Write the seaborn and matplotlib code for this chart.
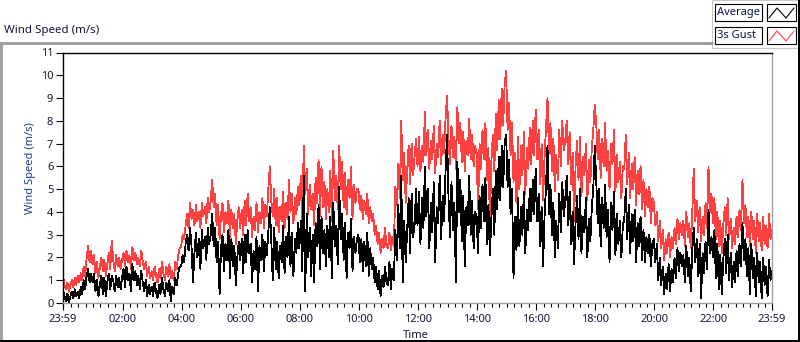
import numpy as np
import pandas as pd
import matplotlib
matplotlib.use("Agg")
import matplotlib.pyplot as plt
import seaborn as sns
from matplotlib.lines import Line2D
from matplotlib.patches import Rectangle
from matplotlib.ticker import MultipleLocator

# ---------------- data (3-minute samples) ----------------
sample_minutes = 3
start_offset_min = -1   # first sample at 23:59 of the previous day

gust = [
    # 00h
    1.2, 0.8, 0.6, 0.9, 0.5, 0.8, 1.0, 0.7, 1.1, 0.8, 1.2, 0.9, 1.3, 1.0, 1.6, 1.2, 2.0, 2.5, 1.8, 2.3,
    # 01h
    1.7, 2.1, 1.3, 1.8, 1.1, 1.6, 2.0, 1.4, 1.9, 1.2, 1.7, 2.2, 1.5, 2.75, 1.9, 1.4, 2.1, 1.6, 2.0, 1.5,
    # 02h
    1.9, 2.2, 1.6, 2.3, 1.8, 2.1, 1.5, 2.45, 1.9, 2.2, 1.7, 2.0, 1.6, 2.3, 1.8, 1.5, 1.8, 1.2, 1.6, 1.1,
    # 03h
    1.4, 1.0, 1.6, 1.2, 0.9, 1.5, 1.1, 1.8, 1.3, 1.0, 1.6, 1.2, 1.7, 1.1, 1.4, 1.0, 1.8, 1.5, 2.1, 2.4,
    # 04h
    2.5, 3.0, 2.8, 3.4, 3.9, 3.3, 4.4, 3.7, 4.1, 3.4, 4.3, 3.6, 4.0, 3.3, 4.4, 3.8, 4.2, 3.5, 4.6, 4.0,
    # 05h
    4.5, 5.4, 4.2, 4.8, 3.4, 4.3, 2.8, 3.9, 4.4, 3.1, 4.0, 3.5, 4.5, 2.9, 4.1, 3.3, 3.9, 2.6, 3.6, 4.2,
    # 06h
    3.3, 4.1, 3.0, 4.5, 3.4, 4.8, 3.6, 4.2, 2.9, 3.8, 3.2, 4.4, 3.1, 4.0, 3.5, 4.6, 3.3, 4.3, 3.8, 5.0,
    # 07h
    6.0, 4.5, 3.8, 5.0, 3.4, 4.6, 3.1, 4.2, 3.6, 4.9, 3.3, 4.4, 3.7, 5.4, 4.0, 4.8, 3.5, 4.6, 3.9, 5.1,
    # 08h
    4.3, 5.6, 3.6, 6.9, 4.8, 5.9, 3.9, 5.2, 4.1, 4.8, 3.4, 5.5, 4.4, 6.3, 3.8, 6.0, 4.2, 5.3, 3.7, 5.0,
    # 09h
    4.0, 5.8, 3.6, 6.7, 4.5, 5.6, 4.1, 6.9, 5.0, 6.2, 4.2, 5.7, 3.9, 5.4, 4.6, 6.0, 3.7, 5.2, 4.4, 5.0,
    # 10h
    5.0, 4.1, 4.7, 3.7, 4.5, 3.9, 4.8, 3.5, 4.2, 3.6, 3.9, 3.0, 3.4, 2.6, 3.1, 2.2, 2.8, 2.4, 3.3, 2.5,
    # 11h
    2.4, 3.1, 2.3, 2.9, 2.5, 5.1, 4.3, 6.1, 4.6, 8.0, 5.4, 6.6, 4.4, 5.8, 6.9, 5.2, 7.0, 5.6, 6.4, 7.2,
    # 12h
    6.0, 7.3, 5.8, 6.9, 6.2, 8.4, 6.5, 7.6, 5.9, 7.1, 6.3, 7.8, 5.7, 7.0, 6.4, 8.0, 6.1, 7.4, 6.6, 8.1,
    # 13h
    9.1, 7.2, 6.1, 7.8, 6.4, 7.3, 5.9, 8.6, 7.0, 7.9, 6.2, 7.5, 5.8, 7.1, 6.5, 8.1, 6.3, 7.4, 6.0, 6.9,
    # 14h
    6.6, 4.1, 7.0, 5.9, 7.6, 6.3, 7.9, 5.4, 6.8, 3.5, 6.2, 7.4, 5.8, 8.3, 6.7, 8.9, 7.2, 9.4, 7.8, 9.6,
    # 15h
    10.2, 7.6, 8.8, 6.5, 7.9, 5.3, 6.6, 4.4, 7.3, 5.0, 6.9, 5.6, 7.5, 4.8, 6.8, 5.9, 7.7, 6.1, 8.0, 6.5,
    # 16h
    8.5, 6.3, 7.6, 5.2, 7.0, 4.5, 6.4, 7.7, 9.0, 6.6, 7.9, 5.8, 7.2, 4.9, 6.5, 5.4, 7.6, 6.0, 8.0, 6.7,
    # 17h
    7.1, 8.0, 6.1, 7.5, 5.2, 6.6, 3.6, 6.0, 7.1, 5.4, 7.3, 4.7, 6.4, 5.6, 7.0, 4.5, 6.3, 5.3, 6.8, 7.6,
    # 18h
    8.7, 7.9, 6.3, 7.6, 5.5, 7.2, 6.0, 7.9, 5.8, 6.7, 5.0, 7.0, 6.1, 7.6, 4.9, 6.5, 5.3, 6.2, 4.6, 6.0,
    # 19h
    5.9, 7.4, 5.2, 6.6, 4.6, 6.1, 5.0, 6.4, 4.3, 5.8, 4.8, 6.0, 4.1, 5.4, 3.8, 5.0, 4.2, 5.1, 3.5, 4.6,
    # 20h
    4.4, 3.4, 4.0, 2.7, 3.6, 2.4, 3.2, 1.9, 2.8, 2.2, 3.1, 2.0, 2.9, 2.4, 3.3, 2.6, 3.7, 2.8, 3.5, 3.0,
    # 21h
    3.6, 2.5, 4.0, 2.9, 3.5, 2.4, 3.9, 5.9, 3.6, 4.5, 3.1, 4.2, 2.7, 3.8, 3.0, 4.4, 3.3, 6.0, 4.0, 4.8,
    # 22h
    3.5, 4.6, 2.8, 4.0, 2.5, 3.6, 2.2, 3.4, 4.2, 3.0, 4.6, 2.8, 3.7, 2.4, 3.3, 2.6, 3.8, 2.9, 4.1, 3.2,
    # 23h
    5.4, 3.5, 4.3, 2.9, 3.8, 2.5, 4.0, 2.8, 3.6, 2.2, 3.9, 2.7, 3.5, 2.3, 3.8, 2.6, 3.4, 2.4, 3.9, 2.8,
    3.2,
]

average = [
    # 00h
    0.6, 0.3, 0.1, 0.4, 0.0, 0.3, 0.5, 0.2, 0.6, 0.3, 0.5, 0.2, 0.7, 0.4, 1.0, 0.6, 1.2, 1.5, 0.9, 1.3,
    # 01h
    0.9, 1.3, 0.5, 1.0, 0.3, 0.8, 1.2, 0.4, 1.1, 0.3, 0.9, 1.3, 0.6, 1.2, 1.0, 0.5, 1.2, 0.7, 1.1, 0.6,
    # 02h
    1.1, 1.5, 0.7, 1.6, 1.0, 1.3, 0.5, 1.7, 1.0, 1.4, 0.8, 1.2, 0.6, 1.4, 0.9, 0.5, 1.0, 0.3, 0.8, 0.4,
    # 03h
    0.7, 0.3, 0.9, 0.5, 0.2, 0.8, 0.4, 1.1, 0.6, 0.3, 0.9, 0.5, 1.0, 0.1, 0.7, 0.4, 1.1, 0.8, 1.3, 1.6,
    # 04h
    1.6, 2.1, 1.8, 2.6, 3.0, 2.3, 3.3, 2.5, 0.9, 2.2, 3.1, 2.0, 2.8, 1.5, 3.2, 2.4, 2.9, 1.9, 3.3, 2.6,
    # 05h
    3.0, 3.9, 2.5, 3.3, 1.8, 2.7, 0.4, 2.4, 3.0, 1.4, 2.6, 1.9, 3.2, 1.1, 2.8, 1.6, 2.5, 0.8, 2.0, 2.7,
    # 06h
    1.9, 2.8, 1.3, 3.0, 1.8, 3.2, 2.2, 2.6, 0.9, 2.3, 1.5, 2.9, 0.5, 2.5, 1.9, 3.0, 1.4, 2.7, 2.1, 3.1,
    # 07h
    4.2, 2.8, 1.0, 3.3, 1.5, 2.7, 1.1, 2.5, 1.8, 3.4, 1.3, 2.9, 2.0, 3.8, 1.6, 3.1, 1.2, 2.8, 2.2, 3.5,
    # 08h
    2.4, 3.6, 1.4, 5.6, 0.5, 3.9, 2.0, 3.3, 1.2, 3.0, 0.9, 3.5, 2.5, 4.3, 1.5, 3.8, 2.2, 3.2, 1.6, 3.4,
    # 09h
    2.0, 3.8, 1.1, 4.4, 2.5, 3.4, 1.7, 5.1, 2.8, 3.9, 1.9, 3.5, 1.1, 3.1, 2.4, 3.7, 1.4, 2.9, 2.2, 2.8,
    # 10h
    3.0, 1.8, 2.8, 1.4, 2.7, 1.6, 3.1, 1.2, 2.4, 1.5, 2.0, 0.9, 1.6, 0.6, 1.4, 0.3, 1.2, 0.7, 1.6, 0.9,
    # 11h
    0.8, 1.8, 0.6, 1.5, 1.0, 3.2, 1.9, 4.3, 2.4, 5.6, 0.9, 3.6, 1.8, 3.2, 4.6, 2.2, 4.8, 2.9, 3.4, 5.0,
    # 12h
    3.4, 4.9, 2.6, 4.6, 3.3, 6.0, 3.8, 5.0, 2.4, 4.4, 3.1, 5.3, 1.8, 4.2, 3.5, 5.6, 2.8, 4.7, 3.6, 5.8,
    # 13h
    7.4, 4.6, 2.9, 5.3, 3.2, 4.4, 0.9, 6.2, 4.0, 5.4, 2.7, 4.7, 1.6, 4.2, 3.4, 5.6, 3.0, 4.5, 2.4, 4.0,
    # 14h
    3.8, 2.2, 4.7, 3.3, 5.2, 3.6, 5.5, 2.6, 4.3, 2.1, 3.7, 5.0, 3.0, 5.8, 4.1, 6.4, 4.5, 6.9, 5.1, 7.0,
    # 15h
    7.4, 5.1, 6.3, 3.9, 5.0, 1.1, 3.8, 2.3, 4.6, 2.5, 4.2, 3.0, 4.9, 2.2, 4.1, 3.2, 5.0, 3.6, 5.4, 3.9,
    # 16h
    5.9, 3.6, 4.8, 2.5, 4.2, 1.6, 3.8, 5.1, 6.9, 3.9, 5.2, 3.0, 4.4, 2.0, 3.6, 2.4, 4.8, 3.1, 5.3, 3.8,
    # 17h
    4.5, 5.6, 3.4, 4.9, 2.6, 4.0, 1.7, 3.5, 4.7, 2.8, 5.0, 2.2, 3.8, 3.1, 4.6, 2.0, 3.7, 2.7, 4.2, 5.0,
    # 18h
    6.9, 5.4, 3.5, 5.0, 2.5, 4.6, 3.3, 5.2, 2.9, 4.1, 1.8, 4.4, 3.2, 4.9, 2.1, 3.9, 2.6, 3.6, 2.0, 3.4,
    # 19h
    3.7, 5.0, 2.8, 4.3, 2.2, 3.9, 2.7, 4.1, 1.8, 3.5, 2.5, 3.8, 1.9, 3.2, 1.8, 2.9, 2.2, 3.0, 1.6, 2.6,
    # 20h
    2.8, 1.8, 2.6, 1.0, 2.0, 0.8, 1.6, 0.4, 1.3, 0.6, 1.7, 0.5, 1.5, 0.9, 2.0, 1.1, 2.4, 1.4, 2.2, 1.6,
    # 21h
    2.1, 0.9, 2.5, 1.2, 2.0, 0.5, 2.3, 3.3, 1.8, 2.8, 1.2, 2.6, 0.2, 2.2, 1.3, 2.7, 1.5, 4.1, 2.2, 2.9,
    # 22h
    2.0, 3.2, 1.1, 2.6, 0.6, 2.1, 0.4, 1.9, 2.8, 1.3, 3.0, 1.0, 2.2, 0.7, 1.8, 0.9, 2.3, 1.2, 2.6, 1.6,
    # 23h
    3.5, 1.9, 2.8, 1.2, 2.4, 0.4, 2.6, 1.1, 2.0, 0.3, 2.2, 0.9, 1.8, 0.2, 2.0, 0.8, 1.6, 0.3, 1.9, 1.0,
    1.4,
]

series_names = ["Average", "3s Gust"]
series_colors = ["#000000", "#ff4040"]

x_tick_hours = [-1 / 60, 2, 4, 6, 8, 10, 12, 14, 16, 18, 20, 22, 24 - 1 / 60]
x_tick_labels = ["23:59", "02:00", "04:00", "06:00", "08:00", "10:00", "12:00",
                 "14:00", "16:00", "18:00", "20:00", "22:00", "23:59"]
y_ticks = list(range(0, 12))

# ---------------- figure ----------------
W, H = 800, 342
sns.set_theme(style="white")
plt.rcParams['font.family'] = ['Noto Sans', 'DejaVu Sans']

fig = plt.figure(figsize=(W / 100, H / 100), dpi=100)
fig.patch.set_facecolor("white")

def fx(px):
    return px / W

def fy(py):
    return 1 - py / H

L, R, T, B = 63, 772, 52.5, 303
ax = fig.add_axes([fx(L), fy(B), fx(R) - fx(L), fy(T) - fy(B)])
ax.set_facecolor("white")

n = len(gust)
hours = (start_offset_min + np.arange(n) * sample_minutes) / 60.0
df = pd.DataFrame({
    "hours": np.concatenate([hours, hours]),
    "speed": np.array(gust + average, dtype=float),
    "series": ["3s Gust"] * n + ["Average"] * n,
})

sns.lineplot(data=df, x="hours", y="speed", hue="series",
             hue_order=["3s Gust", "Average"],
             palette={"3s Gust": series_colors[1], "Average": series_colors[0]},
             estimator=None, linewidth=0.6, legend=False, ax=ax)
for ln in ax.lines:
    ln.set_antialiased(False)

ax.set_xlim(-1 / 60, 24 - 1 / 60)
ax.set_ylim(0, 11)
ax.set_xticks(x_tick_hours)
ax.set_xticklabels(x_tick_labels)
ax.xaxis.set_minor_locator(MultipleLocator(0.25))
ax.set_yticks(y_ticks)
ax.set_yticklabels([str(v) for v in y_ticks])

tick_col = "#14143c"
ax.tick_params(axis="x", which="major", direction="out", length=5, width=0.8,
               color="black", pad=3, labelsize=8, labelcolor=tick_col, bottom=True)
ax.tick_params(axis="x", which="minor", direction="out", length=3, width=0.8,
               color="black", bottom=True)
ax.tick_params(axis="y", which="major", direction="out", length=5, width=0.8,
               color="black", pad=2, labelsize=8, labelcolor=tick_col, left=True)

for side in ["left", "top"]:
    ax.spines[side].set_color("black")
    ax.spines[side].set_linewidth(1.0)
for side in ["right", "bottom"]:
    ax.spines[side].set_color("#a0a0a0")
    ax.spines[side].set_linewidth(1.0)

ax.set_xlabel("")
ax.set_ylabel("Wind Speed (m/s)", fontsize=8, color="#1c3a96")
ax.yaxis.set_label_coords((36 - L) / (R - L), 0.54)

fig.text(fx(416), fy(335), "Time", ha="center", va="center", fontsize=8, color=tick_col)
fig.text(fx(4), fy(31), "Wind Speed (m/s)", ha="left", va="center", fontsize=8.3, color=tick_col)

# outer panel decorations
def hline(y, x0, x1, col, lw=1.0):
    fig.add_artist(Line2D([fx(x0), fx(x1)], [fy(y), fy(y)], color=col, lw=lw,
                          transform=fig.transFigure, antialiased=False))

def vline(x, y0, y1, col, lw=1.0):
    fig.add_artist(Line2D([fx(x), fx(x)], [fy(y0), fy(y1)], color=col, lw=lw,
                          transform=fig.transFigure, antialiased=False))

hline(42.5, 0, 712, "#a0a0a0")
vline(0.8, 42.5, 342, "#a0a0a0")
hline(340.8, 0, 800, "black")
vline(799.2, 0, 342, "black")

# legend panel
fig.add_artist(Rectangle((fx(712), fy(48)), fx(798) - fx(712), fy(0) - fy(48),
                         transform=fig.transFigure, facecolor="white",
                         edgecolor="#c8c8c8", lw=0.8))
rows = [(4, 21), (27, 44)]
for (y0, y1), name, col in zip(rows, series_names, series_colors):
    fig.add_artist(Rectangle((fx(715), fy(y1)), fx(762) - fx(715), fy(y0) - fy(y1),
                             transform=fig.transFigure, facecolor="white",
                             edgecolor="black", lw=0.8))
    fig.text(fx(717), fy((y0 + y1) / 2 + 0.5), name, ha="left", va="center",
             fontsize=8, color="#0a1450")
    fig.add_artist(Rectangle((fx(767), fy(y1)), fx(796) - fx(767), fy(y0) - fy(y1),
                             transform=fig.transFigure, facecolor="white",
                             edgecolor="black", lw=0.8))
    zx = [769, 777, 786, 794]
    zy = [y1 - 3, y0 + 4, y1 - 3, y0 + 4]
    fig.add_artist(Line2D([fx(v) for v in zx], [fy(v) for v in zy], color=col,
                          lw=0.8, transform=fig.transFigure))

fig.savefig("out.png", dpi=100, facecolor="white")
